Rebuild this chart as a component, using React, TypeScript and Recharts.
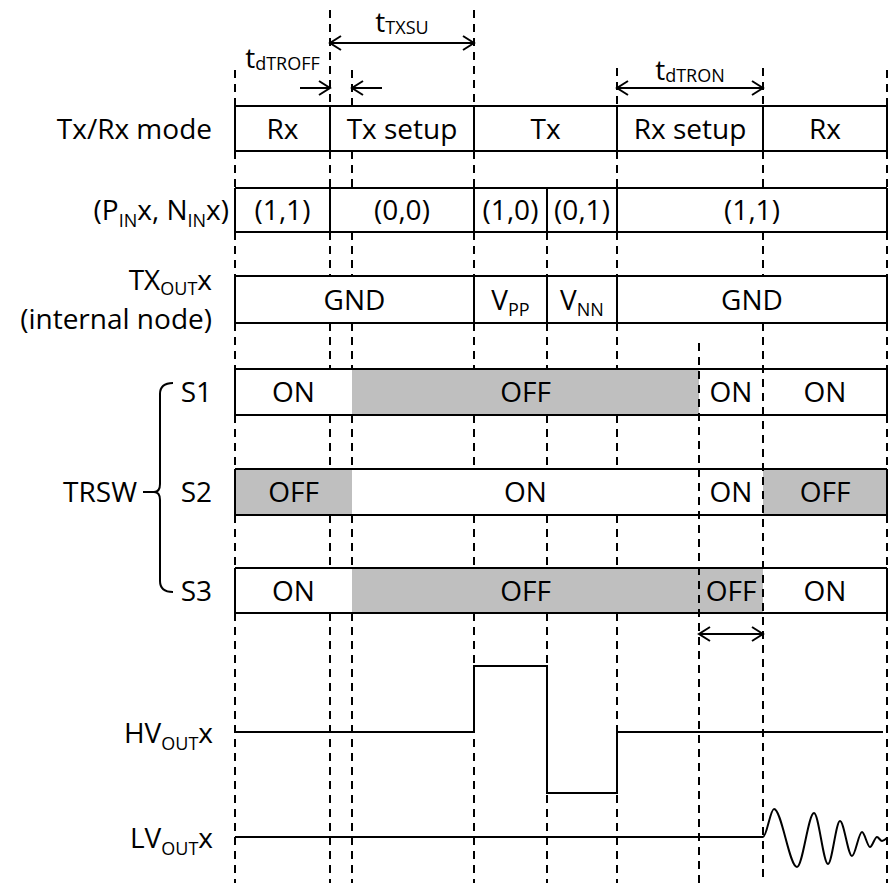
import React from "react";
import { ComposedChart, Line, XAxis, YAxis, ReferenceArea, ReferenceLine } from "recharts";

const W = 889;
const H = 889;
const AXIS_W = 235;
const FONT = "'Open Sans', sans-serif";
const FS = 28;
const SUB_FS = 18;
const GRAY = "#bfbfbf";
const INK = "#000";

// time axis, arbitrary units (0 = left edge of the boxes)
const T_END = 652;
const PHASE_T = [0, 95, 239, 382, 528, T_END];
const PHASES = ["Rx", "Tx setup", "Tx", "Rx setup", "Rx"];
const INPUT_T = [0, 95, 239, 312, 382, T_END];
const INPUTS = ["(1,1)", "(0,0)", "(1,0)", "(0,1)", "(1,1)"];
const NODE_T = [0, 239, 312, 382, T_END];
const NODE = ["GND", "V_{PP}", "V_{NN}", "GND"];
const SW_T = [0, 117, 464, 528, T_END];
const S1 = ["ON", "OFF", "ON", "ON"];
const S2 = ["OFF", "ON", "ON", "OFF"];
const S3 = ["ON", "OFF", "OFF", "ON"];

// HV pulse and LV echo (1 unit = 10 px)
const HV_T = [0, 239, 312, 382, 648];
const HV_V = [0, 6.6, -6.1, 0, 0];
const LV_T = [0, 528, 539, 562, 579, 593, 605, 617, 627, 635, 642, 647, 652];
const LV_V = [0, 0, 2.8, -3.0, 2.4, -2.7, 1.6, -1.9, 0.5, -1.0, 0, -0.4, -0.1];
const PX_PER_UNIT = 10;

// dashed guides
const GUIDE_T = [0, 95, 117, 239, 312, 382, 464, 528, T_END];
const GUIDE_TOP = [70, 10, 70, 10, 232, 68, 343, 68, 70];
const GUIDE_END = 883;
const CROSS_T = [464, 528];

// timing annotations
const ARROWS = [
  { from: 95, to: 239, y: 43, both: true },
  { from: 65, to: 95, y: 88, both: false },
  { from: 147, to: 117, y: 88, both: false },
  { from: 382, to: 528, y: 88, both: true },
  { from: 464, to: 528, y: 634, both: true },
];
const T_LABELS = [
  { text: "t_{TXSU}", from: 95, to: 239, y: 32 },
  { text: "t_{dTROFF}", from: 0, to: 95, y: 68 },
  { text: "t_{dTRON}", from: 382, to: 528, y: 80 },
];

type Row = { id: string; top: number; bottom: number; t: number[]; text: string[]; sw?: boolean; label: string[]; right?: number };
const ROWS: Row[] = [
  { id: "mode", top: 106, bottom: 151, t: PHASE_T, text: PHASES, label: ["Tx/Rx mode"] },
  { id: "pin", top: 188, bottom: 232, t: INPUT_T, text: INPUTS, label: ["(P_{IN}x, N_{IN}x)"], right: 229 },
  { id: "txout", top: 276, bottom: 323, t: NODE_T, text: NODE, label: ["TX_{OUT}x", "(internal node)"] },
  { id: "s1", top: 369, bottom: 415, t: SW_T, text: S1, sw: true, label: ["S1"] },
  { id: "s2", top: 469, bottom: 515, t: SW_T, text: S2, sw: true, label: ["S2"] },
  { id: "s3", top: 568, bottom: 613, t: SW_T, text: S3, sw: true, label: ["S3"] },
];
const WAVES = [
  { id: "hv", base: 732, label: "HV_{OUT}x" },
  { id: "lv", base: 837, label: "LV_{OUT}x" },
];

const LANES = [
  ...ROWS.map((r) => ({ id: r.id, mid: (r.top + r.bottom) / 2, label: r.label, right: r.right ?? 212, dy: 10 })),
  ...WAVES.map((w) => ({ id: w.id, mid: w.base, label: [w.label], right: 213, dy: 11 })),
];

function rich(s: string, shift = 7, subFs = SUB_FS) {
  const parts = s.split(/_\{([^}]*)\}/);
  let level = 0;
  const out: React.ReactNode[] = [];
  parts.forEach((p, i) => {
    if (!p) return;
    const isSub = i % 2 === 1;
    const target = isSub ? shift : 0;
    out.push(
      <tspan key={i} dy={target - level} fontSize={isSub ? subFs : undefined}>
        {p}
      </tspan>
    );
    level = target;
  });
  return out;
}

function LaneTick(props: any) {
  const lane = LANES.find((l) => l.mid === props.payload?.value);
  if (!lane) return null;
  const y = props.y;
  const n = lane.label.length;
  return (
    <g>
      {lane.label.map((s, i) => (
        <text
          key={i}
          x={lane.right}
          y={y + lane.dy + (i - (n - 1) / 2) * 39}
          textAnchor="end"
          fontFamily={FONT}
          fontSize={FS}
          fill={INK}
        >
          {rich(s, n > 1 ? 5 : 7)}
        </text>
      ))}
      {lane.id === "s2" && (
        <g>
          <text x={137} y={y + 10} textAnchor="end" fontFamily={FONT} fontSize={FS} fill={INK}>
            TRSW
          </text>
          <path
            d={`M173,${y - 109} Q160,${y - 109} 160,${y - 98} L160,${y - 8} Q160,${y} 154,${y} L143,${y} M154,${y} Q160,${y} 160,${y + 8} L160,${y + 89} Q160,${y + 100} 173,${y + 100}`}
            fill="none"
            stroke={INK}
            strokeWidth={2}
          />
        </g>
      )}
    </g>
  );
}

const boxLabel = (text: string) => (p: any) => {
  const { x, y, width, height } = p.viewBox;
  return (
    <text x={x + width / 2} y={y + height / 2 + 10} textAnchor="middle" fontFamily={FONT} fontSize={FS} fill={INK}>
      {rich(text, 6)}
    </text>
  );
};

const arrowShape = (both: boolean) => (p: any) => {
  const { x1, y1, x2, y2 } = p;
  const d = Math.sign(x2 - x1);
  const head = (x: number, s: number) => `M${x - s * 11},${y1 - 7} L${x},${y1} L${x - s * 11},${y1 + 7}`;
  return (
    <g>
      <line x1={x1} y1={y1} x2={x2} y2={y2} stroke={INK} strokeWidth={2} />
      <path d={head(x2, d) + (both ? " " + head(x1, -d) : "")} fill="none" stroke={INK} strokeWidth={2} />
    </g>
  );
};

const textShape = (text: string) => (p: any) => (
  <text x={(p.x1 + p.x2) / 2} y={p.y1} textAnchor="middle" fontFamily={FONT} fontSize={FS} fill={INK}>
    {rich(text, 2)}
  </text>
);

// parts of each guide that lie between the rows
function guideSegments(t: number, top: number) {
  const blocks = ROWS.filter((r) => !(r.sw && CROSS_T.includes(t)))
    .map((r) => [r.top, r.bottom])
    .sort((a, b) => a[0] - b[0]);
  const segs: [number, number][] = [];
  let y = top;
  for (const [a, b] of blocks) {
    if (b <= y) continue;
    if (a > y) segs.push([y, a]);
    y = Math.max(y, b);
  }
  if (y < GUIDE_END) segs.push([y, GUIDE_END]);
  return segs;
}

const hvData = HV_T.map((t, i) => ({ t, v: HV_V[i] }));
const lvData = LV_T.map((t, i) => ({ t, v: LV_V[i] }));
const waveDomain = (base: number) => [-(H - base) / PX_PER_UNIT, base / PX_PER_UNIT];

export default function App() {
  const solid = { stroke: INK, strokeWidth: 2, ifOverflow: "visible" as const, yAxisId: "lane" };
  const dashed = { ...solid, strokeDasharray: "8 6" };

  return (
    <div style={{ position: "absolute", left: 0, top: 0, width: W, height: H, background: "#fff" }}>
      <ComposedChart width={W} height={H} margin={{ top: 0, right: W - AXIS_W - T_END, bottom: 0, left: 0 }}>
        <XAxis type="number" dataKey="t" domain={[0, T_END]} allowDataOverflow hide />
        <YAxis
          yAxisId="lane"
          type="number"
          domain={[0, H]}
          reversed
          allowDataOverflow
          width={AXIS_W}
          ticks={LANES.map((l) => l.mid)}
          interval={0}
          axisLine={false}
          tickLine={false}
          tickSize={0}
          tickMargin={0}
          tick={<LaneTick />}
        />
        <YAxis yAxisId="hv" type="number" domain={waveDomain(WAVES[0].base)} allowDataOverflow hide />
        <YAxis yAxisId="lv" type="number" domain={waveDomain(WAVES[1].base)} allowDataOverflow hide />

        {/* row fills and texts */}
        {ROWS.flatMap((r) =>
          r.text.map((txt, i) => (
            <ReferenceArea
              key={`${r.id}-a${i}`}
              yAxisId="lane"
              x1={r.t[i]}
              x2={r.t[i + 1]}
              y1={r.top}
              y2={r.bottom}
              fill={r.sw && txt === "OFF" ? GRAY : "#fff"}
              fillOpacity={1}
              stroke="none"
              ifOverflow="visible"
              label={boxLabel(txt)}
            />
          ))
        )}

        {/* dashed guides */}
        {GUIDE_T.flatMap((t, gi) =>
          guideSegments(t, GUIDE_TOP[gi]).map(([a, b], k) => (
            <ReferenceLine key={`g${gi}-${k}`} {...dashed} segment={[{ x: t, y: a }, { x: t, y: b }]} />
          ))
        )}

        {/* row outlines */}
        {ROWS.flatMap((r) => {
          const xs = r.sw ? [0, T_END] : r.t;
          return [
            <ReferenceLine key={`${r.id}-top`} {...solid} segment={[{ x: 0, y: r.top }, { x: T_END, y: r.top }]} />,
            <ReferenceLine key={`${r.id}-bot`} {...solid} segment={[{ x: 0, y: r.bottom }, { x: T_END, y: r.bottom }]} />,
            ...xs.map((x, i) => (
              <ReferenceLine key={`${r.id}-d${i}`} {...solid} segment={[{ x, y: r.top }, { x, y: r.bottom }]} />
            )),
          ];
        })}

        {/* timing arrows and names */}
        {ARROWS.map((a, i) => (
          <ReferenceLine key={`ar${i}`} {...solid} segment={[{ x: a.from, y: a.y }, { x: a.to, y: a.y }]} shape={arrowShape(a.both)} />
        ))}
        {T_LABELS.map((l, i) => (
          <ReferenceLine key={`tl${i}`} {...solid} stroke="none" segment={[{ x: l.from, y: l.y }, { x: l.to, y: l.y }]} shape={textShape(l.text)} />
        ))}

        <Line yAxisId="hv" data={hvData} dataKey="v" type="stepAfter" stroke={INK} strokeWidth={2} dot={false} activeDot={false} isAnimationActive={false} />
        <Line yAxisId="lv" data={lvData} dataKey="v" type="monotone" stroke={INK} strokeWidth={2} dot={false} activeDot={false} isAnimationActive={false} />
      </ComposedChart>
    </div>
  );
}
